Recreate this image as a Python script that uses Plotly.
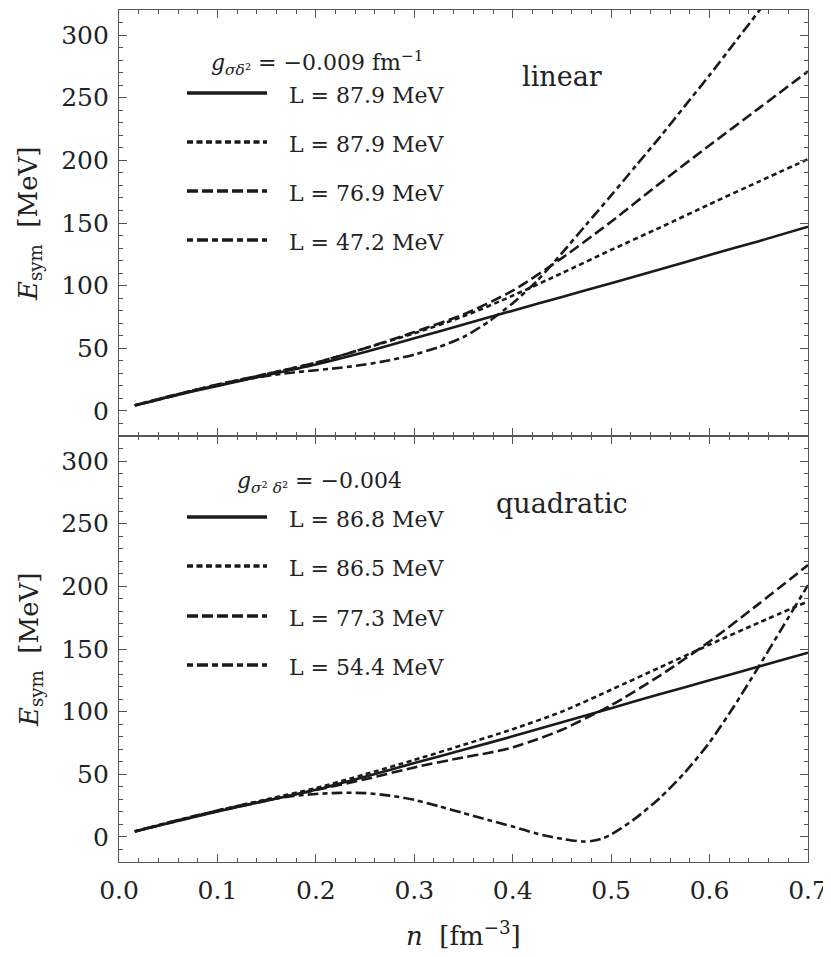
import plotly.graph_objects as go
from plotly.subplots import make_subplots

# ---------------- data ----------------
n_grid = [0.016, 0.05, 0.1, 0.15, 0.2, 0.25, 0.3, 0.35, 0.4, 0.45, 0.5, 0.55, 0.6, 0.65, 0.7]
n_fine = [0.016, 0.05, 0.075, 0.1, 0.125, 0.15, 0.175, 0.2, 0.225, 0.25, 0.275, 0.3, 0.325, 0.35,
          0.375, 0.4, 0.425, 0.45, 0.475, 0.5, 0.525, 0.55, 0.575, 0.6, 0.625, 0.65, 0.675, 0.7]

# linear coupling (top panel)
lin_solid = [4.3, 11, 20, 28.5, 37, 47, 58, 69, 80, 91, 102, 113, 124.5, 135.5, 147]
lin_dot = [4.5, 11.5, 21, 29.5, 38.5, 50, 62, 75.5, 92, 110, 128.5, 146.5, 165, 183, 201]
lin_dash = [4.5, 11.5, 21, 29.5, 38.5, 50, 63, 77, 96, 122, 151, 182, 212, 241.5, 271]
lin_dd = [4.3, 11, 16, 20.5, 24.5, 28, 30.5, 32.5, 34.5, 37, 40.5, 45, 51, 59,
          71, 86, 104, 126, 149, 172, 195.5, 219, 243.5, 268, 293.5, 319, 345, 370]

# quadratic coupling (bottom panel)
quad_solid = [4.3, 11, 20.3, 29, 37.6, 48, 59, 69.5, 80.3, 91.5, 102.8, 114, 125, 136, 147]
quad_dot = [4.5, 11.5, 21, 30, 39, 50, 61.5, 73.5, 86, 100, 117.5, 135.5, 153.5, 171, 188]
n_quad_dash = [0.016, 0.05, 0.1, 0.15, 0.2, 0.25, 0.3, 0.35, 0.375, 0.4, 0.425, 0.45, 0.475, 0.5,
               0.55, 0.6, 0.65, 0.7]
quad_dash = [4.3, 11, 20.5, 29, 37.5, 46, 55.5, 63.5, 67, 71.5, 78, 85.5, 95, 105,
             129, 156, 186, 217]
n_quad_dd = [0.016, 0.05, 0.075, 0.1, 0.125, 0.15, 0.175, 0.2, 0.225, 0.25, 0.275, 0.3, 0.325, 0.35,
             0.375, 0.4, 0.425, 0.44, 0.45, 0.46, 0.47, 0.48, 0.49, 0.5, 0.51, 0.525, 0.55, 0.575,
             0.6, 0.625, 0.65, 0.675, 0.7]
quad_dd = [4.3, 11.5, 16.5, 21, 25.5, 29.5, 32.5, 34.3, 35.2, 35, 33, 29.6, 24.5, 19,
           13.5, 8.3, 2.5, 0.0, -1.5, -2.8, -3.6, -3.3, -1.5, 2.0, 6.8, 15.0, 31.5, 51.5,
           75.5, 104.5, 136, 168.5, 201]

lin_labels = ["L = 87.9 MeV", "L = 87.9 MeV", "L = 76.9 MeV", "L = 47.2 MeV"]
quad_labels = ["L = 86.8 MeV", "L = 86.5 MeV", "L = 77.3 MeV", "L = 54.4 MeV"]
lin_coupling = "<i>g</i><sub><i>σδ</i>²</sub> = −0.009 fm<sup>−1</sup>"
quad_coupling = "<i>g</i><sub><i>σ</i>² <i>δ</i>²</sub> = −0.004"
panel_names = ["linear", "quadratic"]

x_ticks = [0.0, 0.1, 0.2, 0.3, 0.4, 0.5, 0.6, 0.7]
y_ticks = [0, 50, 100, 150, 200, 250, 300]

# ---------------- styling ----------------
FONT = "DejaVu Serif"
TXT = "#222222"
LINE = "#1a1a1a"
AX = "#555555"
dashes = ["solid", "5px,3.5px", "11px,4.5px", "5px,4px,11px,4px"]
leg_dashes = ["solid", "6px,3.5px", "11px,4px", "6px,4px,11px,4px"]

# the page body has an 8px margin, so the figure is drawn offset by (8, 8)
OFF = 8
W, H = 831 - OFF, 957 - OFF
L_M, R_M, T_M, B_M = 119 - OFF, 23, 10 - OFF, 95
PW = W - L_M - R_M
PH = H - T_M - B_M


def px_x(px):  # page pixel -> paper
    return (px - OFF - L_M) / PW


def px_y(py):
    return (H - B_M - (py - OFF)) / PH


fig = make_subplots(rows=2, cols=1, shared_xaxes=True, vertical_spacing=0)

top_series = [(n_grid, lin_solid), (n_grid, lin_dot), (n_grid, lin_dash), (n_fine, lin_dd)]
bot_series = [(n_grid, quad_solid), (n_grid, quad_dot), (n_quad_dash, quad_dash), (n_quad_dd, quad_dd)]

for row, series, labels in [(1, top_series, lin_labels), (2, bot_series, quad_labels)]:
    for (xs, ys), d, lab in zip(series, dashes, labels):
        fig.add_trace(go.Scatter(x=xs, y=ys, mode="lines", name=lab, showlegend=False,
                                 line=dict(color=LINE, width=2.6, dash=d, shape="spline", smoothing=0.7)),
                      row=row, col=1)

axis_common = dict(showline=True, linecolor=AX, linewidth=1.3, mirror="ticks", ticks="inside",
                   ticklen=8, tickwidth=1.2, tickcolor=AX, showgrid=False, zeroline=False,
                   automargin=False, tickfont=dict(family=FONT, size=25, color=TXT))

for r in (1, 2):
    fig.update_xaxes(range=[0, 0.7], tickvals=x_ticks, ticktext=[f"{v:.1f}" for v in x_ticks],
                     minor=dict(dtick=0.02, tick0=0, ticklen=4, tickcolor=AX, tickwidth=1, ticks="inside"),
                     showticklabels=(r == 2), ticklabelstandoff=6, row=r, col=1, **axis_common)
    fig.update_yaxes(range=[-20, 320], tickvals=y_ticks,
                     minor=dict(dtick=10, tick0=0, ticklen=4, tickcolor=AX, tickwidth=1, ticks="inside"),
                     ticklabelstandoff=4, row=r, col=1, **axis_common)

shapes = []
annotations = []
legend_rows = [([93, 142, 191, 240], lin_labels, lin_coupling, 209, 63, panel_names[0], 520, 76),
               ([517, 566, 616, 665], quad_labels, quad_coupling, 235, 482, panel_names[1], 494, 503)]
for ys, labels, coup, cx, cy, pname, pnx, pny in legend_rows:
    for y, lab, d in zip(ys, labels, leg_dashes):
        shapes.append(dict(type="line", xref="paper", yref="paper", x0=px_x(187), x1=px_x(267),
                           y0=px_y(y), y1=px_y(y), line=dict(color=LINE, width=3.5, dash=d)))
        annotations.append(dict(text=lab, xref="paper", yref="paper", x=px_x(287), y=px_y(y + 2),
                                xanchor="left", yanchor="middle", showarrow=False,
                                font=dict(family=FONT, size=22, color=TXT)))
    annotations.append(dict(text=coup, xref="paper", yref="paper", x=px_x(cx), y=px_y(cy),
                            xanchor="left", yanchor="middle", showarrow=False,
                            font=dict(family=FONT, size=22, color=TXT)))
    annotations.append(dict(text=pname, xref="paper", yref="paper", x=px_x(pnx), y=px_y(pny),
                            xanchor="left", yanchor="middle", showarrow=False,
                            font=dict(family=FONT, size=27, color=TXT)))

for yc in (224, 650):
    annotations.append(dict(text="<i>E</i><sub>sym</sub>  [MeV]", xref="paper", yref="paper",
                            x=px_x(30), y=px_y(yc), xanchor="center", yanchor="middle", textangle=-90,
                            showarrow=False, font=dict(family=FONT, size=26, color=TXT)))
annotations.append(dict(text="<i>n</i>  [fm<sup>−3</sup>]", xref="paper", yref="paper",
                        x=px_x(463), y=px_y(934), xanchor="center", yanchor="middle",
                        showarrow=False, font=dict(family=FONT, size=26, color=TXT)))

fig.update_layout(width=W, height=H, margin=dict(l=L_M, r=R_M, t=T_M, b=B_M, autoexpand=False),
                  paper_bgcolor="white", plot_bgcolor="white", showlegend=False,
                  shapes=shapes, annotations=annotations,
                  font=dict(family=FONT, color=TXT))

fig.write_html("out.html")
